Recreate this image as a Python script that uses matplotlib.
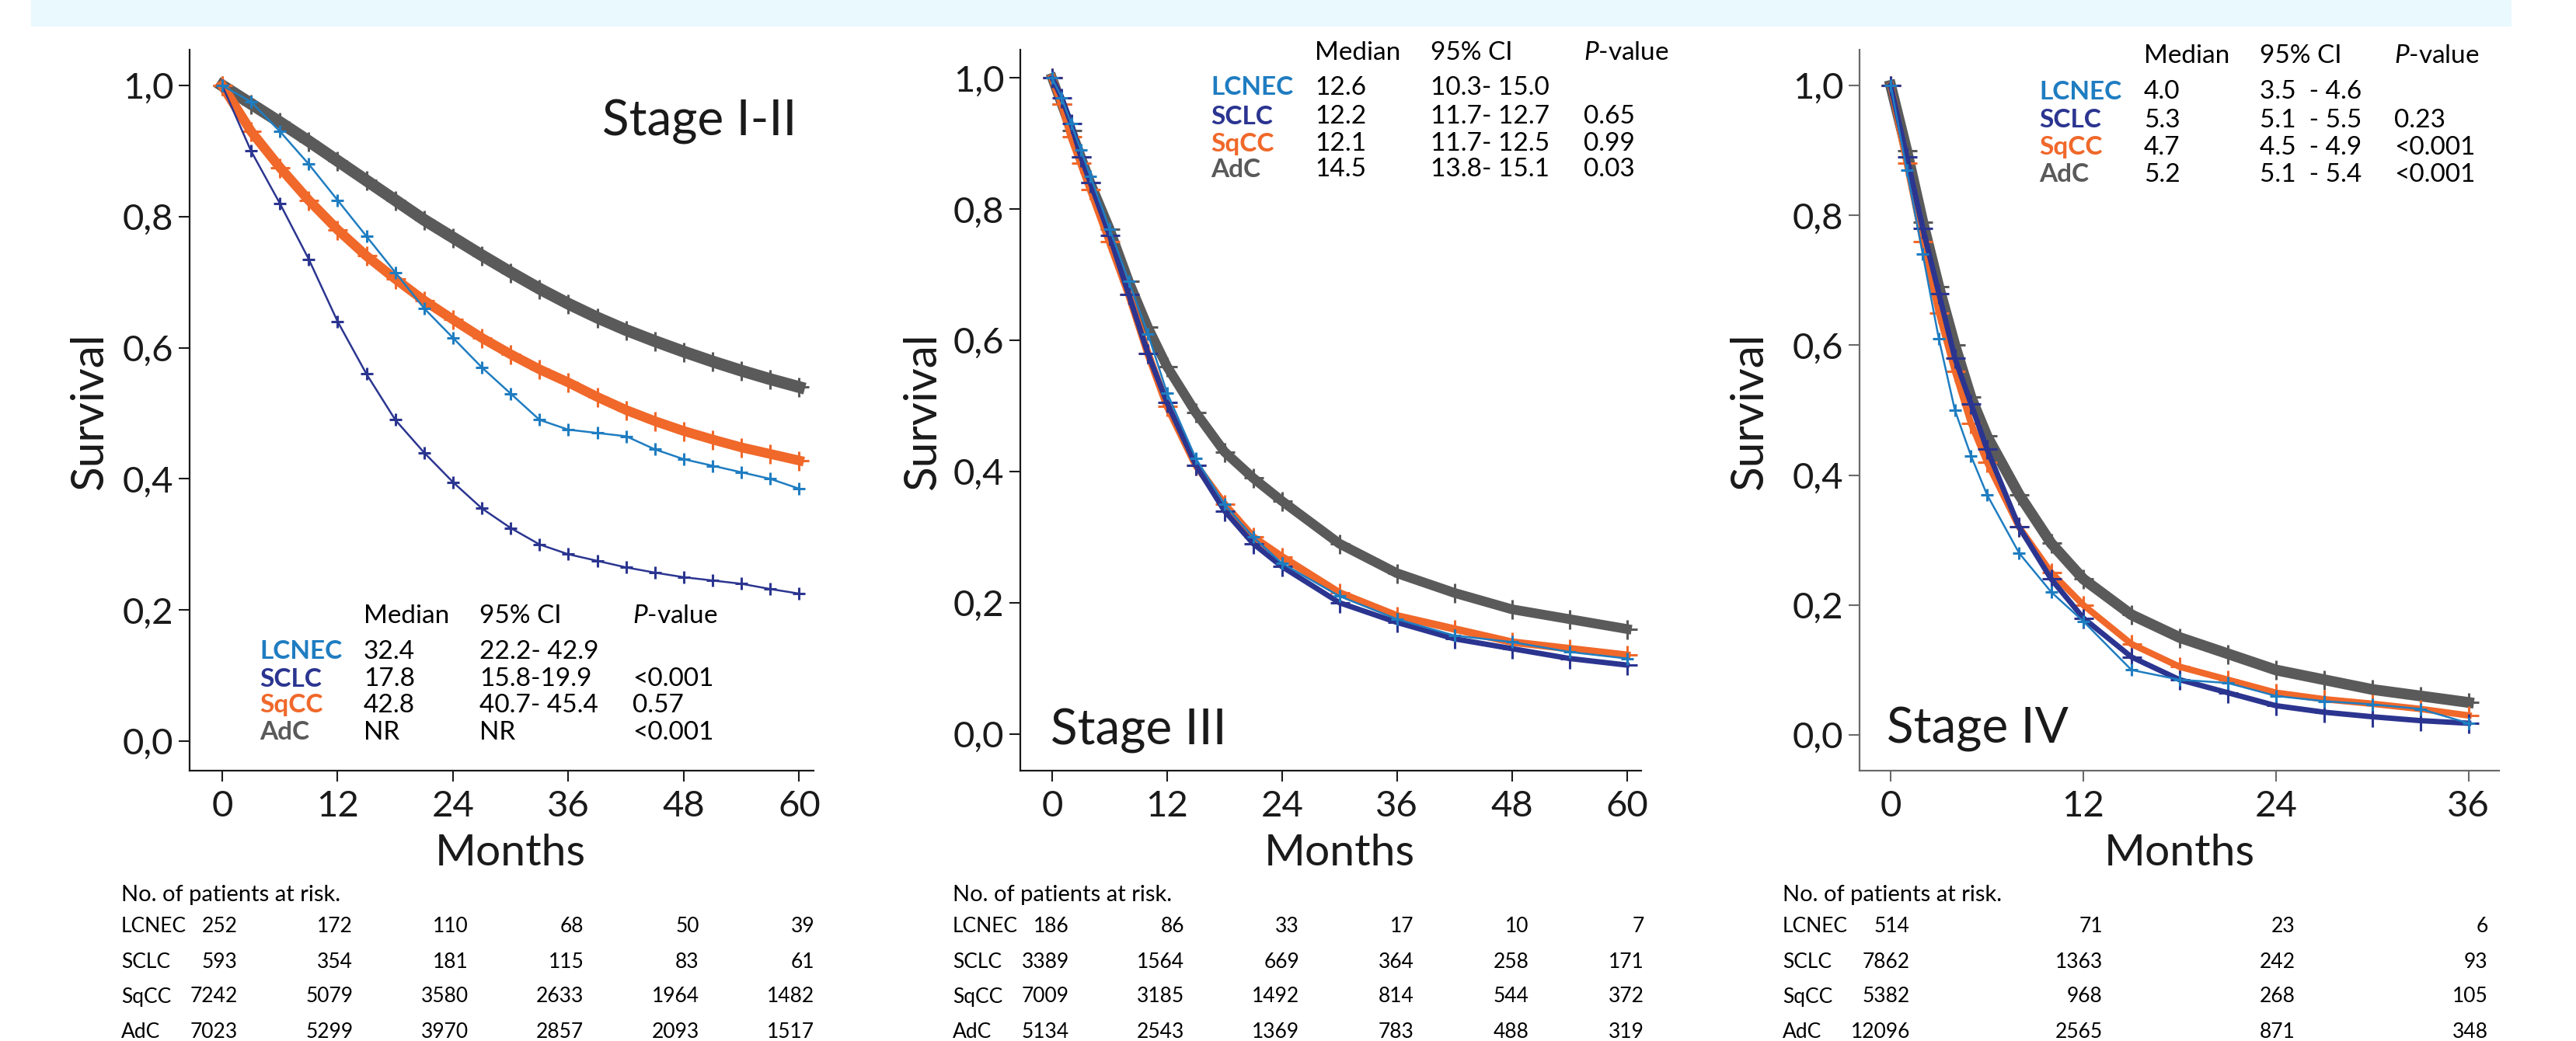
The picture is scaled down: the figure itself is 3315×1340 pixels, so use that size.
import matplotlib.pyplot as plt
from matplotlib.patches import Rectangle
from matplotlib.transforms import blended_transform_factory

plt.rcParams['font.family'] = ['Lato', 'DejaVu Sans']
plt.rcParams['mathtext.fontset'] = 'custom'
plt.rcParams['mathtext.it'] = 'Lato:italic'
plt.rcParams['mathtext.rm'] = 'Lato'

W, H = 3316, 1340

groups = ['LCNEC', 'SCLC', 'SqCC', 'AdC']
colors = {'LCNEC': '#1F7DC1', 'SCLC': '#2B3590', 'SqCC': '#F0682A', 'AdC': '#5A5A5A'}

# Stage I-II
t1 = [0, 3, 6, 9, 12, 15, 18, 21, 24, 27, 30, 33, 36, 39, 42, 45, 48, 51, 54, 57, 60]
s1_lcnec = [1.0, 0.975, 0.93, 0.88, 0.825, 0.77, 0.715, 0.66, 0.615, 0.57, 0.53, 0.49, 0.475, 0.47, 0.465, 0.445, 0.43, 0.42, 0.41, 0.40, 0.385]
s1_sclc = [1.0, 0.90, 0.82, 0.735, 0.64, 0.56, 0.49, 0.44, 0.395, 0.355, 0.325, 0.30, 0.285, 0.275, 0.265, 0.257, 0.25, 0.245, 0.24, 0.232, 0.225]
s1_sqcc = [1.0, 0.93, 0.875, 0.825, 0.78, 0.74, 0.705, 0.672, 0.643, 0.615, 0.59, 0.567, 0.547, 0.525, 0.505, 0.488, 0.473, 0.46, 0.448, 0.438, 0.428]
s1_adc = [1.0, 0.972, 0.944, 0.915, 0.885, 0.855, 0.825, 0.795, 0.768, 0.741, 0.715, 0.69, 0.667, 0.646, 0.627, 0.61, 0.594, 0.579, 0.565, 0.552, 0.54]

# Stage III
t2 = [0, 1, 2, 3, 4, 6, 8, 10, 12, 15, 18, 21, 24, 30, 36, 42, 48, 54, 60]
s2_lcnec = [1.0, 0.97, 0.93, 0.89, 0.85, 0.77, 0.69, 0.61, 0.52, 0.42, 0.35, 0.30, 0.26, 0.21, 0.175, 0.15, 0.14, 0.125, 0.115]
s2_sclc = [1.0, 0.97, 0.93, 0.88, 0.84, 0.76, 0.67, 0.58, 0.505, 0.41, 0.34, 0.29, 0.255, 0.20, 0.17, 0.145, 0.13, 0.115, 0.105]
s2_sqcc = [1.0, 0.96, 0.91, 0.87, 0.83, 0.75, 0.67, 0.58, 0.50, 0.41, 0.35, 0.30, 0.27, 0.215, 0.18, 0.16, 0.14, 0.13, 0.12]
s2_adc = [1.0, 0.96, 0.92, 0.88, 0.84, 0.77, 0.69, 0.62, 0.56, 0.49, 0.43, 0.39, 0.355, 0.29, 0.245, 0.215, 0.19, 0.175, 0.16]

# Stage IV
t3 = [0, 1, 2, 3, 4, 5, 6, 8, 10, 12, 15, 18, 21, 24, 27, 30, 33, 36]
s3_lcnec = [1.0, 0.87, 0.74, 0.61, 0.50, 0.43, 0.37, 0.28, 0.22, 0.175, 0.10, 0.085, 0.08, 0.06, 0.052, 0.047, 0.04, 0.018]
s3_sclc = [1.0, 0.89, 0.78, 0.68, 0.58, 0.51, 0.44, 0.32, 0.24, 0.18, 0.12, 0.085, 0.065, 0.045, 0.035, 0.028, 0.022, 0.018]
s3_sqcc = [1.0, 0.88, 0.76, 0.65, 0.56, 0.48, 0.42, 0.32, 0.25, 0.20, 0.14, 0.105, 0.085, 0.065, 0.055, 0.048, 0.04, 0.03]
s3_adc = [1.0, 0.90, 0.79, 0.69, 0.60, 0.52, 0.46, 0.37, 0.295, 0.24, 0.185, 0.15, 0.125, 0.10, 0.085, 0.07, 0.06, 0.05]

stage_names = ['Stage I-II', 'Stage III', 'Stage IV']

# median / CI / p-value tables
median1 = ['32.4', '17.8', '42.8', 'NR']
ci1 = ['22.2- 42.9', '15.8-19.9', '40.7- 45.4', 'NR']
p1 = ['', '<0.001', '0.57', '<0.001']
median2 = ['12.6', '12.2', '12.1', '14.5']
ci2 = ['10.3- 15.0', '11.7- 12.7', '11.7- 12.5', '13.8- 15.1']
p2 = ['', '0.65', '0.99', '0.03']
median3 = ['4.0', '5.3', '4.7', '5.2']
ci3 = ['3.5  - 4.6', '5.1  - 5.5', '4.5  - 4.9', '5.1  - 5.4']
p3 = ['', '0.23', '<0.001', '<0.001']

# numbers at risk
risk_t1 = [0, 12, 24, 36, 48, 60]
risk1 = {'LCNEC': [252, 172, 110, 68, 50, 39],
         'SCLC': [593, 354, 181, 115, 83, 61],
         'SqCC': [7242, 5079, 3580, 2633, 1964, 1482],
         'AdC': [7023, 5299, 3970, 2857, 2093, 1517]}
risk_t2 = [0, 12, 24, 36, 48, 60]
risk2 = {'LCNEC': [186, 86, 33, 17, 10, 7],
         'SCLC': [3389, 1564, 669, 364, 258, 171],
         'SqCC': [7009, 3185, 1492, 814, 544, 372],
         'AdC': [5134, 2543, 1369, 783, 488, 319]}
risk_t3 = [0, 12, 24, 36]
risk3 = {'LCNEC': [514, 71, 23, 6],
         'SCLC': [7862, 1363, 242, 93],
         'SqCC': [5382, 968, 268, 105],
         'AdC': [12096, 2565, 871, 348]}


def fx(px):
    return px / W


def fy(py):
    return 1 - py / H


panels = [
    dict(t=t1, s={'LCNEC': s1_lcnec, 'SCLC': s1_sclc, 'SqCC': s1_sqcc, 'AdC': s1_adc},
         med=median1, ci=ci1, p=p1, rt=risk_t1, risk=risk1,
         left=244, right=1047, xlim=(-3.39, 61.5), ylim=(-0.045, 1.0545), xt=[0, 12, 24, 36, 48, 60],
         spine='#1a1a1a', surv_x=116, risk_x=156, roff=1.6,
         leg_x=[334, 468, 617, 814], leg_y=[793, 839, 874, 908, 943],
         stage_xy=(775, 175), lws={'AdC': 11, 'SqCC': 9, 'SCLC': 1.8, 'LCNEC': 1.8}),
    dict(t=t2, s={'LCNEC': s2_lcnec, 'SCLC': s2_sclc, 'SqCC': s2_sqcc, 'AdC': s2_adc},
         med=median2, ci=ci2, p=p2, rt=risk_t2, risk=risk2,
         left=1313, right=2112, xlim=(-3.32, 61.5), ylim=(-0.056, 1.043), xt=[0, 12, 24, 36, 48, 60],
         spine='#1a1a1a', surv_x=1188, risk_x=1226, roff=1.8,
         leg_x=[1558, 1692, 1841, 2038], leg_y=[68, 113, 150, 185, 218],
         stage_xy=(1352, 958), lws={'AdC': 9, 'SqCC': 7, 'SCLC': 5, 'LCNEC': 1.8}),
    dict(t=t3, s={'LCNEC': s3_lcnec, 'SCLC': s3_sclc, 'SqCC': s3_sqcc, 'AdC': s3_adc},
         med=median3, ci=ci3, p=p3, rt=risk_t3, risk=risk3,
         left=2393, right=3216, xlim=(-1.94, 37.9), ylim=(-0.055, 1.055), xt=[0, 12, 24, 36],
         spine='#6a6a6a', surv_x=2252, risk_x=2294, roff=1.2,
         leg_x=[2624, 2759, 2908, 3081], leg_y=[72, 118, 155, 190, 225],
         stage_xy=(2428, 957), lws={'AdC': 10, 'SqCC': 6, 'SCLC': 5, 'LCNEC': 1.8}),
]

fig = plt.figure(figsize=(W / 100, H / 100), dpi=100)
fig.patches.append(Rectangle((fx(40), fy(33)), fx(3231 - 40), 33 / H,
                             transform=fig.transFigure, color='#EAF9FD', zorder=0))

top_px, bot_px = 64, 992

for i, P in enumerate(panels):
    ax = fig.add_axes([fx(P['left']), fy(bot_px), fx(P['right'] - P['left']), (bot_px - top_px) / H])
    for g in ['AdC', 'SqCC', 'SCLC', 'LCNEC']:
        lw = P['lws'][g]
        ms = 18 if lw > 3 else 11
        ax.plot(P['t'], P['s'][g], color=colors[g], lw=lw, marker='+', ms=ms, mew=2.2)
    ax.set_xlim(P['xlim'])
    ax.set_ylim(P['ylim'])
    for sp in ['top', 'right']:
        ax.spines[sp].set_visible(False)
    for sp in ['left', 'bottom']:
        ax.spines[sp].set_linewidth(1.6)
        ax.spines[sp].set_color(P['spine'])
    ax.set_xticks(P['xt'])
    ax.set_xticklabels([str(v) for v in P['xt']])
    yt = [0, 0.2, 0.4, 0.6, 0.8, 1.0]
    ax.set_yticks(yt)
    ax.set_yticklabels([f'{v:.1f}'.replace('.', ',') for v in yt])
    ax.tick_params(axis='both', length=10, width=1.5, labelsize=34, color=P['spine'], labelcolor='#1a1a1a')
    ax.tick_params(axis='x', pad=8)
    ax.tick_params(axis='y', pad=5)

    # axis titles
    fig.text(fx(P['surv_x']), fy(530), 'Survival', rotation=90, ha='center', va='center', fontsize=42, color='#1a1a1a')
    tr = blended_transform_factory(ax.transData, fig.transFigure)
    ax.text((P['xt'][0] + P['xt'][-1]) / 2, fy(1099), 'Months', transform=tr, ha='center', va='center',
            fontsize=41, color='#1a1a1a')

    # stage label
    sx, sy = P['stage_xy']
    fig.text(fx(sx), fy(sy), stage_names[i], ha='left', va='baseline', fontsize=46, color='#1a1a1a')

    # median table
    lx, ly = P['leg_x'], P['leg_y']
    fig.text(fx(lx[1]), fy(ly[0]), 'Median', ha='left', va='center', fontsize=24)
    fig.text(fx(lx[2]), fy(ly[0]), '95% CI', ha='left', va='center', fontsize=24)
    fig.text(fx(lx[3]), fy(ly[0]), r'$\it{P}$-value', ha='left', va='center', fontsize=24)
    for k, g in enumerate(groups):
        yy = fy(ly[k + 1])
        fig.text(fx(lx[0]), yy, g, ha='left', va='center', fontsize=24, fontweight='bold', color=colors[g])
        fig.text(fx(lx[1]), yy, P['med'][k], ha='left', va='center', fontsize=24)
        fig.text(fx(lx[2]), yy, P['ci'][k], ha='left', va='center', fontsize=24)
        fig.text(fx(lx[3]), yy, P['p'][k], ha='left', va='center', fontsize=24)

    # patients at risk
    fig.text(fx(P['risk_x']), fy(1152), 'No. of patients at risk.', ha='left', va='center', fontsize=21)
    row_y = [1193, 1238, 1283, 1328]
    for k, g in enumerate(groups):
        fig.text(fx(P['risk_x']), fy(row_y[k]), g, ha='left', va='center', fontsize=19)
        for tt, n in zip(P['rt'], P['risk'][g]):
            ax.text(tt + P['roff'], fy(row_y[k]), str(n), transform=tr, ha='right', va='center', fontsize=19)

fig.savefig('out.png', dpi=100)
